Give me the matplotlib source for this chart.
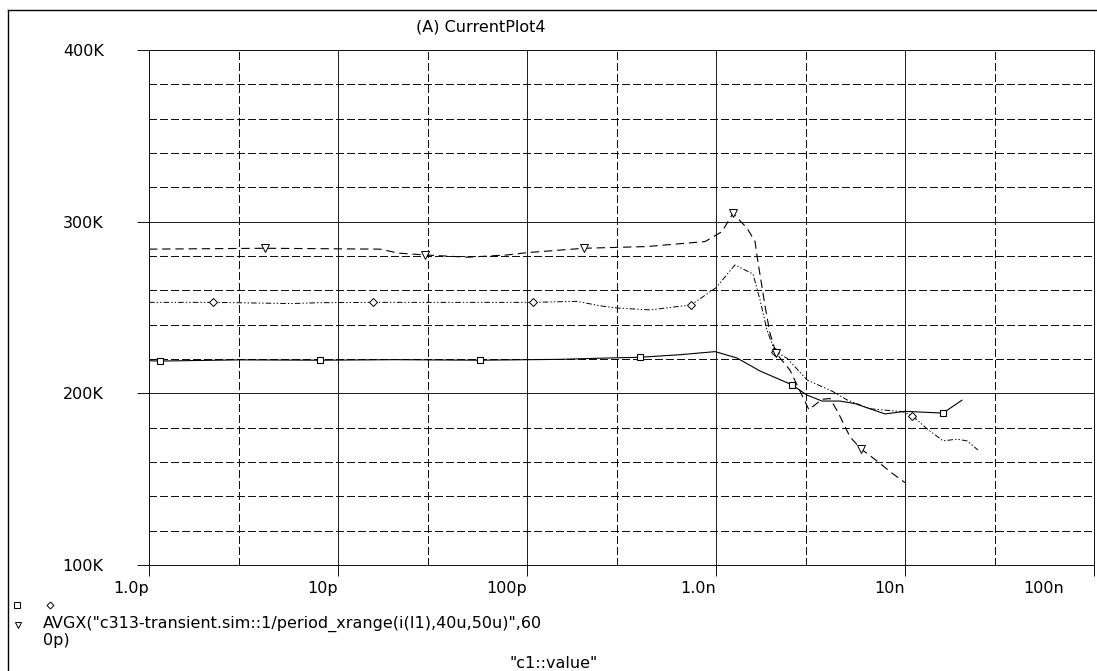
import matplotlib
matplotlib.use('Agg')
import matplotlib.pyplot as plt
from matplotlib.lines import Line2D
from matplotlib.ticker import FixedLocator, NullFormatter, MultipleLocator, FuncFormatter
from matplotlib.transforms import ScaledTranslation
import numpy as np

W, H = 1097, 671  # output size in pixels

plt.rcParams['font.family'] = ['DejaVu Sans']
plt.rcParams['lines.scale_dashes'] = False

# --- averaged current per capacitor value (c1::value in seconds-scale units, values in A) ---
sq_t = [1.0e-12, 1.14e-12, 3.0e-12, 8.03e-12, 20e-12, 56.4e-12, 150e-12, 250e-12, 396e-12,
        645e-12, 0.99e-9, 1.29e-9, 1.71e-9, 2.52e-9, 3.03e-9, 3.64e-9, 4.53e-9, 5.44e-9,
        6.53e-9, 7.84e-9, 10.0e-9, 15.9e-9, 20.0e-9]
sq_v = [219.0, 218.8, 219.5, 219.3, 219.6, 219.3, 219.8, 220.5, 221.0,
        222.5, 224.3, 220.6, 213.0, 205.0, 199.0, 195.5, 195.5, 194.0,
        191.0, 188.0, 189.5, 188.5, 196.0]
sq_marks = [1, 3, 5, 8, 13, 21]

dm_t = [1.0e-12, 2.18e-12, 5.64e-12, 8e-12, 15.3e-12, 50e-12, 108e-12, 184e-12, 243e-12,
        299e-12, 448e-12, 738e-12, 1.0e-9, 1.26e-9, 1.57e-9, 1.71e-9, 1.86e-9, 2.05e-9,
        2.38e-9, 3.03e-9, 4.16e-9, 4.93e-9, 6.53e-9, 9.75e-9, 10.9e-9, 13.2e-9, 15.9e-9,
        18.8e-9, 21.3e-9, 24.3e-9]
dm_v = [253.0, 253.0, 252.3, 252.8, 253.0, 253.0, 253.0, 253.6, 251.0,
        249.7, 248.6, 251.5, 261.5, 274.8, 269.5, 254.4, 236.9, 224.3,
        220.4, 207.8, 201.0, 196.2, 191.0, 189.3, 187.0, 179.0, 172.3,
        173.3, 172.3, 167.0]
dm_marks = [1, 4, 6, 11, 17, 24]

tr_t = [1.0e-12, 4.11e-12, 16.7e-12, 20.8e-12, 28.8e-12, 48.7e-12, 78.4e-12, 101e-12,
        200e-12, 431e-12, 875e-12, 1.076e-9, 1.23e-9, 1.46e-9, 1.61e-9, 1.65e-9, 1.75e-9,
        1.82e-9, 1.93e-9, 2.08e-9, 2.46e-9, 3.1e-9, 3.64e-9, 4.01e-9, 4.42e-9, 5.12e-9,
        5.85e-9, 6.77e-9, 8.54e-9, 10.0e-9]
tr_v = [284.0, 284.5, 284.0, 281.7, 280.6, 279.3, 280.6, 282.0,
        284.5, 285.5, 288.4, 294.2, 304.9, 296.2, 288.4, 279.7, 262.2,
        250.5, 235.0, 223.4, 213.6, 190.5, 196.5, 197.0, 189.0, 174.6,
        167.6, 162.4, 153.5, 148.0]
tr_marks = [1, 4, 8, 12, 19, 26]

x_ticks = [1e-12, 1e-11, 1e-10, 1e-9, 1e-8, 1e-7]
x_labels = ['1.0p', '10p', '100p', '1.0n', '10n', '100n']
x_minor = [3e-12, 3e-11, 3e-10, 3e-9, 3e-8]
y_ticks = [100e3, 200e3, 300e3, 400e3]

title = '(A) CurrentPlot4'
trace_name = 'AVGX("c313-transient.sim::1/period_xrange(i(I1),40u,50u)",60'
trace_name_tail = '0p)'
x_title = '"c1::value"'

FS = 11.5


def fpos(x, y):
    # pixel position (from top-left) -> figure fraction
    return x / W, 1 - y / H


fig = plt.figure(figsize=(W / 100, H / 100), dpi=100)
ax = fig.add_axes([149 / W, 1 - 565 / H, (1094 - 149) / W, (565 - 50) / H])

ax.set_xscale('log')
ax.set_xlim(1e-12, 1e-7)
ax.set_ylim(100e3, 400e3)

ax.xaxis.set_major_locator(FixedLocator(x_ticks))
ax.set_xticklabels(x_labels, ha='right')
ax.xaxis.set_minor_locator(FixedLocator(x_minor))
ax.xaxis.set_minor_formatter(NullFormatter())
ax.yaxis.set_major_locator(FixedLocator(y_ticks))
ax.yaxis.set_minor_locator(MultipleLocator(20e3))
ax.yaxis.set_major_formatter(FuncFormatter(lambda v, _: f'{v / 1e3:.0f}K'))

ax.tick_params(which='major', direction='out', color='#111111', width=0.7, labelsize=FS)
ax.tick_params(axis='x', which='major', length=8, pad=3.5)
ax.tick_params(axis='y', which='major', length=8.6, pad=24)
ax.tick_params(which='minor', length=0)

ax.set_axisbelow(True)
ax.grid(True, which='major', color='#222222', lw=0.65, ls='-', antialiased=False)
ax.grid(True, which='minor', color='#111111', lw=0.65, ls=(0, (5.5, 2.2)), antialiased=False)
for s in ax.spines.values():
    s.set_color('#111111')
    s.set_linewidth(0.7)

# last decade label sits inside the frame
last = ax.get_xticklabels()[-1]
last.set_transform(last.get_transform() + ScaledTranslation(-0.30, 0, fig.dpi_scale_trans))

sq = np.array(sq_v) * 1e3
dm = np.array(dm_v) * 1e3
tr = np.array(tr_v) * 1e3

ax.plot(sq_t, sq, color='black', lw=0.8, ls='-',
        marker='s', markevery=sq_marks, ms=5, mfc='white', mec='black', mew=0.8)
ax.plot(dm_t, dm, color='black', lw=0.7, ls=(0, (4, 1.5, 1, 1.5, 1, 1.5)),
        marker='D', markevery=dm_marks, ms=4, mfc='white', mec='black', mew=0.7)
ax.plot(tr_t, tr, color='black', lw=0.8, ls=(0, (6, 3.5)),
        marker='v', markevery=tr_marks, ms=5.5, mfc='white', mec='black', mew=0.7)

# outer frame
fig.add_artist(Line2D([8 / W, 1.0], [1 - 10 / H, 1 - 10 / H], color='black', lw=1,
                      transform=fig.transFigure))
fig.add_artist(Line2D([8 / W, 8 / W], [1 - 10 / H, 0.0], color='black', lw=1,
                      transform=fig.transFigure))

fig.text(*fpos(481, 27), title, ha='center', va='center', fontsize=FS)

# trace legend under the axes
for (x, y), m, ms in [((16.5, 605), 's', 4), ((50, 605), 'D', 3.5), ((18, 625), 'v', 4.5)]:
    fig.add_artist(Line2D([x / W], [1 - y / H], marker=m, ms=ms, mfc='white', mec='black',
                          mew=0.7, ls='none', transform=fig.transFigure))
fig.text(*fpos(43, 624), trace_name, ha='left', va='center', fontsize=FS)
fig.text(*fpos(43, 641), trace_name_tail, ha='left', va='center', fontsize=FS)
fig.text(*fpos(554, 663), x_title, ha='center', va='center', fontsize=FS)

fig.savefig('out.png', dpi=100)
